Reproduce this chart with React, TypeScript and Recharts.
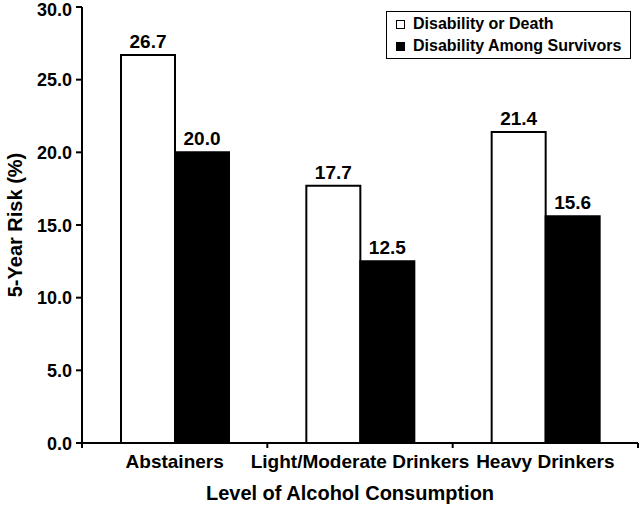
import React from 'react';
import { BarChart, Bar, XAxis, YAxis, Legend, LabelList } from 'recharts';

const categories = ['Abstainers', 'Light/Moderate Drinkers', 'Heavy Drinkers'];
const disabilityOrDeath = [26.7, 17.7, 21.4];
const disabilityAmongSurvivors = [20.0, 12.5, 15.6];
const yTicks = [0, 5, 10, 15, 20, 25, 30];
const seriesNames = ['Disability or Death', 'Disability Among Survivors'];

const data = categories.map((c, i) => ({
  name: c,
  dod: disabilityOrDeath[i],
  das: disabilityAmongSurvivors[i],
}));

const FONT = '"Liberation Sans", Arial, Helvetica, sans-serif';

const XTick = (props: any) => {
  const { x, y, payload, index, visibleTicksCount } = props;
  const half = payload && payload.offset ? payload.offset : 185.33 / 2;
  const ay = y - 8;
  return (
    <g>
      <line x1={x - half} y1={ay} x2={x - half} y2={ay + 5} stroke="#000" strokeWidth={2} />
      {index === (visibleTicksCount ?? 3) - 1 && (
        <line x1={x + half} y1={ay} x2={x + half} y2={ay + 5} stroke="#000" strokeWidth={2} />
      )}
      <text x={x} y={y + 17} textAnchor="middle" fontFamily={FONT} fontWeight="bold" fontSize={19} fill="#000">
        {payload.value}
      </text>
    </g>
  );
};

const YTick = (props: any) => {
  const { x, y, payload } = props;
  const top = Number(payload.value) === 30;
  return (
    <text x={x} y={y} dy={top ? 8.5 : 6.5} textAnchor="end" fontFamily={FONT} fontWeight="bold" fontSize={18} fill="#000">
      {Number(payload.value).toFixed(1)}
    </text>
  );
};

const LegendContent = () => (
  <div
    style={{
      border: '1.5px solid #000',
      boxSizing: 'border-box',
      width: 245,
      height: 48,
      background: '#fff',
      fontFamily: FONT,
      fontWeight: 'bold',
      fontSize: 16,
      color: '#000',
      paddingLeft: 9,
      paddingTop: 1,
      lineHeight: '22px',
      textAlign: 'left',
    }}
  >
    {seriesNames.map((n, i) => (
      <div key={n} style={{ display: 'flex', alignItems: 'center', height: 22 }}>
        <span
          style={{
            display: 'inline-block',
            width: 9,
            height: 9,
            boxSizing: 'border-box',
            border: '1.5px solid #000',
            background: i === 0 ? '#fff' : '#000',
            marginRight: 8,
          }}
        />
        <span>{n}</span>
      </div>
    ))}
  </div>
);

export default function App() {
  return (
    <div style={{ position: 'absolute', left: 0, top: 0, background: '#fff' }}>
      <BarChart
        width={640}
        height={509}
        data={data}
        margin={{ top: 7, right: 2, bottom: 0, left: 0 }}
        barCategoryGap={39}
        barGap={0}
      >
        <XAxis
          dataKey="name"
          height={66}
          axisLine={{ stroke: '#000', strokeWidth: 2 }}
          tickLine={false}
          tick={<XTick />}
          interval={0}
          label={(p: any) => (
            <text x={350} y={500} textAnchor="middle" fontFamily={FONT} fontWeight="bold" fontSize={20} fill="#000">
              Level of Alcohol Consumption
            </text>
          )}
        />
        <YAxis
          width={82}
          domain={[0, 30]}
          ticks={yTicks}
          interval={0}
          axisLine={{ stroke: '#000', strokeWidth: 2 }}
          tickLine={{ stroke: '#000', strokeWidth: 2 }}
          tickSize={6}
          tickMargin={4}
          tick={<YTick />}
          label={(p: any) => (
            <text
              x={22}
              y={225}
              transform="rotate(-90 22 225)"
              textAnchor="middle"
              fontFamily={FONT}
              fontWeight="bold"
              fontSize={20}
              fill="#000"
            >
              5-Year Risk (%)
            </text>
          )}
        />
        <Legend
          content={<LegendContent />}
          layout="horizontal"
          verticalAlign="middle"
          align="center"
          wrapperStyle={{ position: 'absolute', left: 386, top: 11, width: 245, height: 48 }}
        />
        <Bar dataKey="dod" name={seriesNames[0]} fill="#fff" stroke="#000" strokeWidth={2} isAnimationActive={false}>
          <LabelList
            dataKey="dod"
            position="top"
            offset={7}
            formatter={(v: any) => Number(v).toFixed(1)}
            style={{ fontFamily: FONT, fontWeight: 'bold', fontSize: 19, fill: '#000' }}
          />
        </Bar>
        <Bar dataKey="das" name={seriesNames[1]} fill="#000" stroke="#000" strokeWidth={2} isAnimationActive={false}>
          <LabelList
            dataKey="das"
            position="top"
            offset={7}
            formatter={(v: any) => Number(v).toFixed(1)}
            style={{ fontFamily: FONT, fontWeight: 'bold', fontSize: 19, fill: '#000' }}
          />
        </Bar>
      </BarChart>
    </div>
  );
}
